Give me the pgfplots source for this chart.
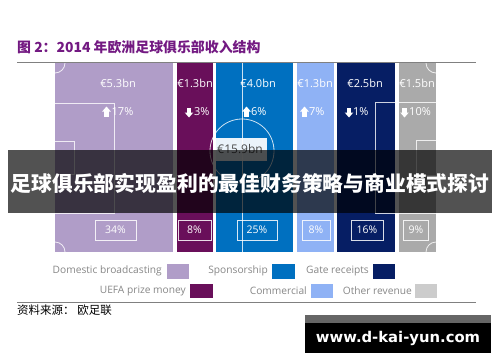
\documentclass[border=0pt]{standalone}
\usepackage{fontspec}
\setmainfont{Open Sans}
\newfontfamily\cjk{Noto Sans CJK SC}
\newfontfamily\dv{DejaVu Sans}
\usepackage{pgfplots}
\pgfplotsset{compat=1.18}
\definecolor{cDom}{RGB}{176,157,200}
\definecolor{cUefa}{RGB}{105,15,90}
\definecolor{cSpo}{RGB}{0,112,192}
\definecolor{cCom}{RGB}{143,178,245}
\definecolor{cGate}{RGB}{6,30,100}
\definecolor{cOth}{RGB}{170,170,170}
\definecolor{cOthL}{RGB}{204,204,204}
\definecolor{cTitle}{RGB}{115,25,130}
\definecolor{cLeg}{RGB}{135,135,135}
\newcommand{\fs}[1]{\fontsize{#1bp}{#1bp}\selectfont}
\newcommand{\uparr}[2]{\fill[white] (#1-4.3,#2-0.5) -- (#1,#2-5.5) -- (#1+4.3,#2-0.5) -- cycle; \fill[white] (#1-2.2,#2-0.8) rectangle (#1+2.2,#2+4.5);}
\newcommand{\downarr}[2]{\fill[white] (#1-4.3,#2+0.5) -- (#1,#2+5.5) -- (#1+4.3,#2+0.5) -- cycle; \fill[white] (#1-2.2,#2+0.8) rectangle (#1+2.2,#2-4.5);}
\begin{document}
\begin{tikzpicture}
\fill[white] (0,-110bp) rectangle (500bp,252bp);
\begin{axis}[scale only axis, width=500bp, height=189bp,
  xmin=0, xmax=500, ymin=0, ymax=100, hide axis, clip=false, enlargelimits=false]
% share of revenue (full-height columns, width ~ share)
\addplot[ybar, bar width=118, bar shift=0pt, fill=cDom, draw=none] coordinates {(114,100)};
\addplot[ybar, bar width=36, bar shift=0pt, fill=cUefa, draw=none] coordinates {(195,100)};
\addplot[ybar, bar width=77, bar shift=0pt, fill=cSpo, draw=none] coordinates {(254.5,100)};
\addplot[ybar, bar width=37, bar shift=0pt, fill=cCom, draw=none] coordinates {(315.5,100)};
\addplot[ybar, bar width=58, bar shift=0pt, fill=cGate, draw=none] coordinates {(366,100)};
\addplot[ybar, bar width=37, bar shift=0pt, fill=cOth, draw=none] coordinates {(417.5,100)};
\end{axis}
\begin{scope}[x=1bp, y=-1bp, shift={(0bp,252bp)}]
% title
\node[anchor=west, text=cTitle, font={\cjk\bfseries\fs{13.9}}, inner sep=0] at (17,47) {图\ 2：2014 年欧洲足球俱乐部收入结构};
\draw[gray, line width=1bp] (17,62) -- (476,62);
% pitch lines
\begin{scope}[white, draw opacity=0.8, line width=0.8bp]
\draw (242,63) -- (242,252);
\draw (242,151) circle[radius=32bp];
\draw (55,103) -- (114,103) -- (114,213) -- (55,213);
\draw (55,141) -- (74,141) -- (74,174) -- (55,174);
\draw (436,102) -- (375,102) -- (375,213) -- (436,213);
\draw (436,140) -- (416,140) -- (416,175) -- (436,175);
\begin{scope}
\clip (55,63) rectangle (436,252);
\draw (55,63) circle[radius=10bp];
\draw (55,252) circle[radius=10bp];
\draw (436,63) circle[radius=10bp];
\draw (436,252) circle[radius=10bp];
\end{scope}
\end{scope}
% values
\begin{scope}[every node/.style={white, font={\fs{11}}, inner sep=0}]
\node at (118,83) {€5.3bn};
\node at (195,83) {€1.3bn};
\node at (258,83) {€4.0bn};
\node at (315,83) {€1.3bn};
\node at (365,83) {€2.5bn};
\node at (417,83) {€1.5bn};
\uparr{106.5}{112}\node[anchor=west] at (111.5,112) {17\%};
\downarr{189}{112}\node[anchor=west] at (194,112) {3\%};
\uparr{246.5}{112}\node[anchor=west] at (251,112) {6\%};
\uparr{304.5}{112}\node[anchor=west] at (309,112) {7\%};
\downarr{349}{112}\node[anchor=west] at (353,112) {1\%};
\downarr{404.5}{112}\node[anchor=west] at (409,112) {10\%};
\end{scope}
\begin{scope}[every node/.style={white, draw=white, draw opacity=0.85, line width=0.9bp, font={\fs{10.5}}, inner sep=0, minimum height=20bp}]
\node[minimum width=41bp] at (115.5,230) {34\%};
\node[minimum width=33bp] at (194.5,230) {8\%};
\node[minimum width=40bp] at (257,230) {25\%};
\node[minimum width=28bp] at (316,230) {8\%};
\node[minimum width=32bp] at (367,230) {16\%};
\node[minimum width=25bp] at (416,230) {9\%};
\end{scope}
\node[fill=white, fill opacity=0.92, text opacity=1, text=black!70, font={\fs{12}}, inner sep=0, minimum width=54bp, minimum height=23bp] at (240,149) {€15.9bn};
% banner
\fill[black, opacity=0.68] (8,150) rectangle (492,213);
\node[white, font={\cjk\bfseries\fs{20.8}}, inner sep=0] at (250,183) {足球俱乐部实现盈利的最佳财务策略与商业模式探讨};
% legend
\begin{scope}[every node/.style={text=cLeg, font={\fs{10.2}}, inner sep=0, anchor=east}]
\node at (162,271) {Domestic broadcasting}; \fill[cDom] (167,264) rectangle (189,279);
\node at (268,271) {Sponsorship}; \fill[cSpo] (272,264) rectangle (295,279);
\node at (369,271) {Gate receipts}; \fill[cGate] (373,264) rectangle (395,279);
\node at (186,291) {UEFA prize money}; \fill[cUefa] (190,284) rectangle (213,298);
\node at (307,291) {Commercial}; \fill[cCom] (311,284) rectangle (333,298);
\node at (412,291) {Other revenue}; \fill[cOthL] (415,284) rectangle (437,298);
\end{scope}
\draw[gray, line width=1bp] (17,302) -- (476,302);
\node[anchor=west, font={\cjk\fs{11.5}}, inner sep=0] at (17,310) {资料来源：\ 欧足联};
% watermark
\fill[black!60] (305,315) rectangle (491,323);
\fill[black] (305,323) rectangle (491,353);
\node[white, font={\dv\bfseries\fs{14.8}}, inner sep=0] at (398,338) {www.d-kai-yun.com};
\pgfresetboundingbox
\useasboundingbox (0,0) rectangle (500,362);
\end{scope}
\end{tikzpicture}
\end{document}
